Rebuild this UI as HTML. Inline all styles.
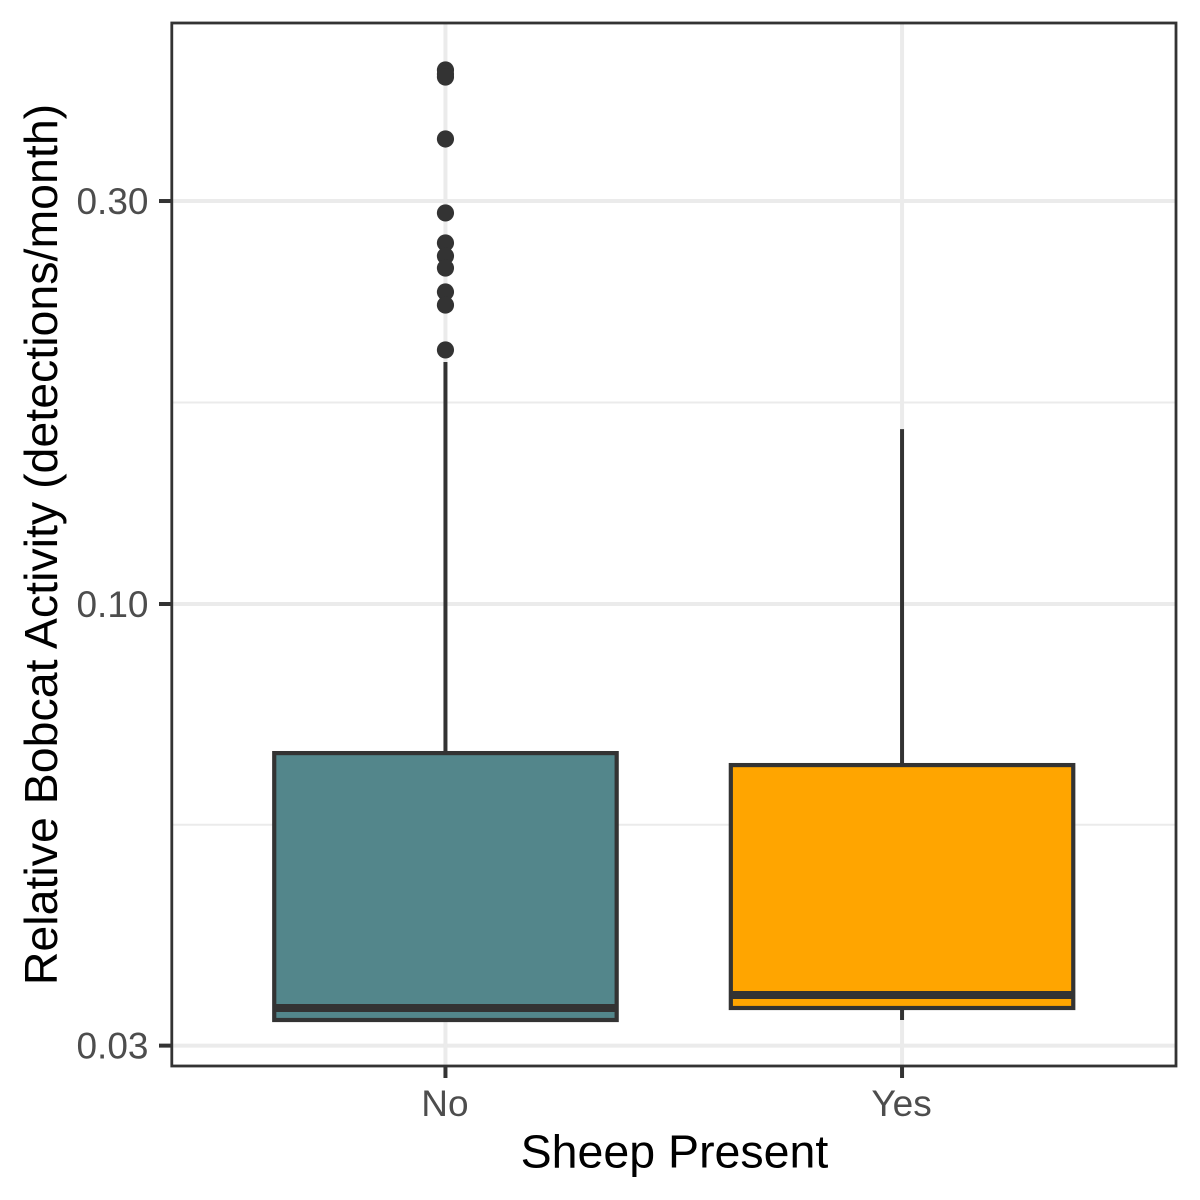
<!DOCTYPE html>
<html lang="en">
<head>
<meta charset="utf-8">
<title>Relative Bobcat Activity by Sheep Presence</title>
<style>
  html, body { margin: 0; padding: 0; background: #ffffff; }
  svg { display: block; font-family: "Liberation Sans", Arial, sans-serif; }
</style>
</head>
<body>
<svg id="chart" xmlns="http://www.w3.org/2000/svg" width="1200" height="1200" viewBox="0 0 1200 1200">
  <rect x="0" y="0" width="1200" height="1200" fill="#ffffff"/>
  <g id="grid"></g>
  <g id="marks"></g>
  <rect x="171.8" y="23" width="1004.2" height="1043" fill="none" stroke="#333333" stroke-width="2.8"/>
  <g id="axes"></g>
  <text x="674.5" y="1167.5" font-size="46.5" text-anchor="middle" fill="#000000">Sheep Present</text>
  <text transform="translate(57 544.5) rotate(-90)" x="0" y="0" font-size="46.5" text-anchor="middle" fill="#000000">Relative Bobcat Activity (detections/month)</text>
</svg>
<script>
const categories = ['No', 'Yes'];
const boxFills = ['#53868B', '#FFA500'];
const q1Values = [0.03217, 0.03324];
const medianValues = [0.03324, 0.03444];
const q3Values = [0.0666, 0.06446];
const whiskerLow = [0.03217, 0.03217];
const whiskerHigh = [0.1934, 0.1611];
const outliersNo = [0.4288, 0.4242, 0.4207, 0.3553, 0.2904, 0.2676, 0.2582, 0.2499, 0.2341, 0.2259, 0.1999];
const outliersYes = [];
const yTickValues = [0.03, 0.1, 0.3];
const yTickLabels = ['0.03', '0.10', '0.30'];

const SVG_NS = 'http://www.w3.org/2000/svg';
const panelLeft = 171.5, panelRight = 1176, panelTop = 23, panelBottom = 1066;
const boxWidth = 0.75;
const xUnit = (panelRight - panelLeft) / (categories.length - 1 + 1.2);

function xScale(position) {
  return panelLeft + (position + 0.6) * xUnit;
}
function yScale(value) {
  return 604 - 844.6 * Math.log10(value / 0.1);
}
function make(tag, parent, attrs) {
  const el = document.createElementNS(SVG_NS, tag);
  Object.keys(attrs).forEach(function (k) { el.setAttribute(k, attrs[k]); });
  parent.appendChild(el);
  return el;
}

const grid = document.getElementById('grid');
const marks = document.getElementById('marks');
const axes = document.getElementById('axes');

// Minor horizontal gridlines sit halfway between major breaks on the log axis
for (let i = 0; i < yTickValues.length - 1; i++) {
  const y = (yScale(yTickValues[i]) + yScale(yTickValues[i + 1])) / 2;
  const el = make('line', grid, { x1: panelLeft, x2: panelRight, y1: y, y2: y, stroke: '#ebebeb', 'stroke-width': 2 });
  
  
}
yTickValues.forEach(function (v) {
  const y = yScale(v);
  const el = make('line', grid, { x1: panelLeft, x2: panelRight, y1: y, y2: y, stroke: '#ebebeb', 'stroke-width': 4 });
  
  
});
categories.forEach(function (c, i) {
  const x = xScale(i);
  const el = make('line', grid, { x1: x, x2: x, y1: panelTop, y2: panelBottom, stroke: '#ebebeb', 'stroke-width': 4 });
  
  
});

const outlierSets = [outliersNo, outliersYes];
categories.forEach(function (c, i) {
  const key = c.toLowerCase();
  const cx = xScale(i);
  const half = boxWidth * xUnit / 2;

  const whiskerUp = make('line', marks, { x1: cx, x2: cx, y1: yScale(q3Values[i]), y2: yScale(whiskerHigh[i]), stroke: '#333333', 'stroke-width': 4 });
  
  

  const whiskerDown = make('line', marks, { x1: cx, x2: cx, y1: yScale(q1Values[i]), y2: yScale(whiskerLow[i]), stroke: '#333333', 'stroke-width': 4 });
  
  

  const top = yScale(q3Values[i]);
  const bottom = yScale(q1Values[i]);
  const box = make('rect', marks, { x: cx - half, y: top, width: half * 2, height: bottom - top, fill: boxFills[i], stroke: '#333333', 'stroke-width': 4.2 });
  
  

  const my = yScale(medianValues[i]);
  const median = make('line', marks, { x1: cx - half, x2: cx + half, y1: my, y2: my, stroke: '#333333', 'stroke-width': 8 });
  
  

  outlierSets[i].forEach(function (v) {
    const dot = make('circle', marks, { cx: cx, cy: yScale(v), r: 8.6, fill: '#333333' });
    
    
  });

  const tick = make('line', axes, { x1: cx, x2: cx, y1: 1067, y2: 1078, stroke: '#333333', 'stroke-width': 4 });
  
  

  const label = make('text', axes, { x: cx - 0.5, y: 1116, 'font-size': 37, 'text-anchor': 'middle', fill: '#4d4d4d' });
  label.textContent = c;
  
  
});

yTickValues.forEach(function (v, i) {
  const y = yScale(v);
  const tick = make('line', axes, { x1: 159, x2: 171, y1: y, y2: y, stroke: '#333333', 'stroke-width': 4 });
  
  

  const label = make('text', axes, { x: 148.5, y: y + 13, 'font-size': 37, 'text-anchor': 'end', fill: '#4d4d4d' });
  label.textContent = yTickLabels[i];
  
  
});
</script>
</body>
</html>
